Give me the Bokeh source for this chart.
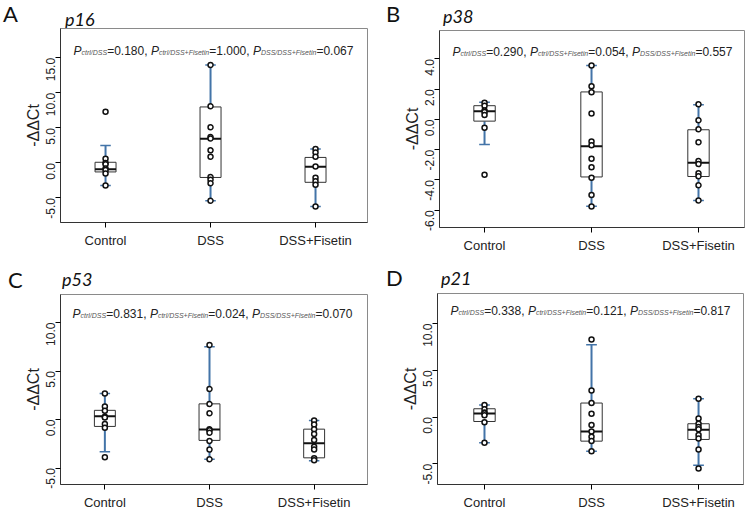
import math
from bokeh.plotting import figure
from bokeh.models import Range1d, FixedTicker, Label, NumeralTickFormatter, Div
from bokeh.layouts import column, row
from bokeh.embed import file_html
from bokeh.resources import INLINE

# ---------------- data ----------------
categories = ["Control", "DSS", "DSS+Fisetin"]
genes = ["p16", "p38", "p53", "p21"]
panel_letters = ["A", "B", "C", "D"]
sub_labels = ["ctrl/DSS", "ctrl/DSS+Fisetin", "DSS/DSS+Fisetin"]

# p16
p16_control = [7.3, 0.6, 0.0, -0.2, -0.8, -1.0, -1.5, -3.2]
p16_dss = [14.0, 8.1, 5.1, 3.7, 3.5, 1.8, 0.9, -2.0, -2.4, -2.9, -5.4]
p16_fisetin = [2.0, 1.5, 0.9, -0.5, -2.1, -2.6, -3.1, -6.2]
p16_q1 = [-1.28, -2.07, -2.76]
p16_median = [-0.89, 3.45, -0.54]
p16_q3 = [0.1, 8.0, 0.79]
p16_whisker_lo = [-3.2, -5.4, -6.2]
p16_whisker_hi = [2.5, 14.0, 2.0]
p16_pvalues = ["0.180", "1.000", "0.067"]
p16_yticks = [-5, 0, 5, 10, 15]

# p38
p38_control = [1.1, 0.9, 0.6, 0.5, 0.3, -0.55, -3.65]
p38_dss = [3.57, 2.2, 1.8, 0.4, -1.45, -1.7, -2.6, -3.15, -3.85, -5.0, -5.75]
p38_fisetin = [1.0, -0.05, -0.65, -1.5, -2.75, -2.95, -3.55, -3.75, -4.35, -5.35]
p38_q1 = [-0.11, -3.8, -3.77]
p38_median = [0.55, -1.77, -2.86]
p38_q3 = [0.91, 1.82, -0.68]
p38_whisker_lo = [-1.66, -5.73, -5.36]
p38_whisker_hi = [1.14, 3.57, 0.98]
p38_pvalues = ["0.290", "0.054", "0.557"]
p38_yticks = [-6, -4, -2, 0, 2, 4]

# p53
p53_control = [2.7, 1.35, 0.9, 0.3, 0.2, -0.45, -0.85, -3.9]
p53_dss = [7.7, 3.15, 1.6, 0.65, -1.0, -1.1, -1.35, -2.2, -3.1, -4.1]
p53_fisetin = [-0.1, -0.5, -1.0, -1.5, -2.1, -2.8, -3.1, -4.0, -4.2]
p53_q1 = [-0.71, -2.15, -3.95]
p53_median = [0.35, -1.02, -2.44]
p53_q3 = [0.95, 1.62, -0.99]
p53_whisker_lo = [-3.32, -4.1, -4.24]
p53_whisker_hi = [2.68, 7.5, -0.11]
p53_pvalues = ["0.831", "0.024", "0.070"]
p53_yticks = [-5, 0, 5, 10]

# p21
p21_control = [1.3, 0.85, 0.5, 0.4, 0.2, -0.55, -2.75]
p21_dss = [8.3, 2.85, 1.5, 0.35, -0.85, -1.55, -2.1, -2.55, -3.65]
p21_fisetin = [1.95, -0.15, -0.7, -1.05, -1.3, -1.9, -2.3, -3.45, -5.5]
p21_q1 = [-0.47, -2.57, -2.39]
p21_median = [0.39, -1.54, -1.36]
p21_q3 = [0.89, 1.5, -0.71]
p21_whisker_lo = [-2.75, -3.64, -5.14]
p21_whisker_hi = [1.29, 7.72, 1.96]
p21_pvalues = ["0.338", "0.121", "0.817"]
p21_yticks = [-5, 0, 5, 10]

panel_data = {
    "p16": dict(points=[p16_control, p16_dss, p16_fisetin], q1=p16_q1, med=p16_median, q3=p16_q3,
                lo=p16_whisker_lo, hi=p16_whisker_hi, pv=p16_pvalues, yticks=p16_yticks),
    "p38": dict(points=[p38_control, p38_dss, p38_fisetin], q1=p38_q1, med=p38_median, q3=p38_q3,
                lo=p38_whisker_lo, hi=p38_whisker_hi, pv=p38_pvalues, yticks=p38_yticks),
    "p53": dict(points=[p53_control, p53_dss, p53_fisetin], q1=p53_q1, med=p53_median, q3=p53_q3,
                lo=p53_whisker_lo, hi=p53_whisker_hi, pv=p53_pvalues, yticks=p53_yticks),
    "p21": dict(points=[p21_control, p21_dss, p21_fisetin], q1=p21_q1, med=p21_median, q3=p21_q3,
                lo=p21_whisker_lo, hi=p21_whisker_hi, pv=p21_pvalues, yticks=p21_yticks),
}

# ---------------- layout / style ----------------
# W: panel width, D: header (Div) height, H: figure height, l/r/t/b: frame borders
OVERLAP = 6   # header overlaps the figure's top border by this much
layout_cfg = {
    "p16": dict(W=373, D=30, H=232, l=60, r=6, t=4, b=34, xr=(0.571, 3.495), yr=(-8.5, 19.2),
                letter=(3, 22), title=(65, 26), ann=(13, 22)),
    "p38": dict(W=373, D=30, H=232, l=66, r=2, t=6, b=29, xr=(0.579, 3.43), yr=(-7.14, 5.88),
                letter=(13, 22), title=(70, 23), ann=(13, 21)),
    "p53": dict(W=373, D=40, H=222, l=60, r=6, t=4, b=27, xr=(0.576, 3.51), yr=(-6.7, 12.9),
                letter=(8, 32), title=(62, 30), ann=(12, 20)),
    "p21": dict(W=373, D=40, H=222, l=64, r=3, t=3, b=23, xr=(0.561, 3.42), yr=(-7.2, 13.2),
                letter=(13, 30), title=(68, 29), ann=(13, 22)),
}

BLUE = "#4374a8"
FONT = "Liberation Sans"
HEAD_FONT = "Lato"

# Arial-compatible advance widths (per 1000 em)
AW = {'0': 556, '1': 556, '2': 556, '3': 556, '4': 556, '5': 556, '6': 556, '7': 556, '8': 556, '9': 556,
      '.': 278, ',': 278, ' ': 278, '=': 584, 'P': 667, 'c': 500, 't': 278, 'r': 333, 'l': 222,
      '/': 278, 'D': 722, 'S': 667, '+': 584, 'F': 611, 'i': 222, 's': 500, 'e': 556, 'n': 556}


def text_w(s, size):
    return sum(AW.get(ch, 556) for ch in s) * size / 1000.0


def make_header(gene, letter):
    c = layout_cfg[gene]
    lx, lb = c["letter"]
    tx, tb = c["title"]
    ls, ts = 22, 18
    html = (
        f'<div style="position:relative;width:{c["W"]}px;height:{c["D"]}px;overflow:visible;">'
        f'<span style="position:absolute;left:{lx}px;top:{lb - 0.887 * ls:.1f}px;font-family:{HEAD_FONT};'
        f'font-size:{ls}px;line-height:{ls}px;color:#111111;white-space:nowrap;">{letter}</span>'
        f'<span style="position:absolute;left:{tx}px;top:{tb - 0.887 * ts:.1f}px;font-family:{HEAD_FONT};'
        f'font-style:italic;font-size:{ts}px;line-height:{ts}px;color:#111111;white-space:nowrap;">{gene}</span>'
        f'</div>'
    )
    return Div(text=html, width=c["W"], height=c["D"], margin=(0, 0, -OVERLAP, 0))


def make_panel(gene, letter):
    d = panel_data[gene]
    c = layout_cfg[gene]
    p = figure(width=c["W"], height=c["H"], output_backend="svg", toolbar_location=None,
               title_location=None,
               min_border_left=c["l"], min_border_right=c["r"], min_border_top=c["t"],
               min_border_bottom=c["b"],
               x_range=Range1d(*c["xr"]), y_range=Range1d(*c["yr"]))
    p.grid.visible = False
    p.outline_line_color = "#8a8a8a"
    p.outline_line_width = 1
    p.background_fill_color = "white"
    p.border_fill_alpha = 0

    xs = [i + 1 for i in range(len(categories))]
    bw = 0.2
    cw = 0.05

    # whiskers
    p.segment(x0=xs, y0=d["q3"], x1=xs, y1=d["hi"], line_color=BLUE, line_width=2)
    p.segment(x0=xs, y0=d["q1"], x1=xs, y1=d["lo"], line_color=BLUE, line_width=2)
    p.segment(x0=[x - cw for x in xs], y0=d["hi"], x1=[x + cw for x in xs], y1=d["hi"],
              line_color=BLUE, line_width=1.5)
    p.segment(x0=[x - cw for x in xs], y0=d["lo"], x1=[x + cw for x in xs], y1=d["lo"],
              line_color=BLUE, line_width=1.5)
    # boxes
    p.quad(left=[x - bw / 2 for x in xs], right=[x + bw / 2 for x in xs], bottom=d["q1"], top=d["q3"],
           fill_color="white", line_color="#333333", line_width=1)
    p.segment(x0=[x - bw / 2 for x in xs], y0=d["med"], x1=[x + bw / 2 for x in xs], y1=d["med"],
              line_color="#111111", line_width=2)
    # points
    for x, vals in zip(xs, d["points"]):
        p.scatter(x=[x] * len(vals), y=vals, size=5, marker="circle", line_color="#111111",
                  line_width=1.5, fill_color="white")

    # axes
    xa = p.xaxis[0]
    xa.ticker = FixedTicker(ticks=xs)
    xa.major_label_overrides = {x: cat for x, cat in zip(xs, categories)}
    xa.minor_tick_line_color = None
    xa.major_tick_out = 5
    xa.major_tick_in = 0
    xa.major_label_standoff = 5
    xa.major_label_text_font = FONT
    xa.major_label_text_font_size = "13px"
    xa.major_label_text_color = "#222222"
    xa.axis_line_color = "#333333"

    ya = p.yaxis[0]
    ya.ticker = FixedTicker(ticks=d["yticks"])
    ya.formatter = NumeralTickFormatter(format="0.0")
    ya.minor_tick_line_color = None
    ya.major_tick_out = 5
    ya.major_tick_in = 0
    ya.major_label_orientation = math.pi / 2
    ya.major_label_standoff = 5
    ya.major_label_text_font = FONT
    ya.major_label_text_font_size = "12px"
    ya.major_label_text_color = "#222222"
    ya.axis_line_color = "#333333"
    ya.axis_label = "-ΔΔCt"
    ya.axis_label_text_font = FONT
    ya.axis_label_text_font_size = "16px"
    ya.axis_label_text_font_style = "normal"
    ya.axis_label_text_color = "#222222"
    ya.axis_label_standoff = -3

    fh = c["H"] - c["t"] - c["b"]

    # P-value annotation (inside the frame)
    ax, ay = c["ann"]
    main_sz, sub_sz = 12, 7
    x = ax
    base = fh - ay
    for k, (sub, pv) in enumerate(zip(sub_labels, d["pv"])):
        p.add_layout(Label(x=x, y=base, x_units="screen", y_units="screen", text="P",
                           text_font=FONT, text_font_size=f"{main_sz}px", text_font_style="italic",
                           text_color="#222222", text_baseline="alphabetic", text_align="left"))
        x += text_w("P", main_sz)
        p.add_layout(Label(x=x, y=base - 2, x_units="screen", y_units="screen", text=sub,
                           text_font=FONT, text_font_size=f"{sub_sz}px", text_font_style="italic",
                           text_color="#555555", text_baseline="alphabetic", text_align="left"))
        x += text_w(sub, sub_sz)
        tail = "=" + pv + (", " if k < len(sub_labels) - 1 else "")
        p.add_layout(Label(x=x, y=base, x_units="screen", y_units="screen", text=tail,
                           text_font=FONT, text_font_size=f"{main_sz}px",
                           text_color="#222222", text_baseline="alphabetic", text_align="left"))
        x += text_w(tail, main_sz)
    return column(make_header(gene, letter), p, spacing=0)


panels = [make_panel(g, L) for g, L in zip(genes, panel_letters)]
layout = column(row(panels[0], panels[1], spacing=0), row(panels[2], panels[3], spacing=0), spacing=0)

open("out.html", "w").write(file_html(layout, INLINE))
